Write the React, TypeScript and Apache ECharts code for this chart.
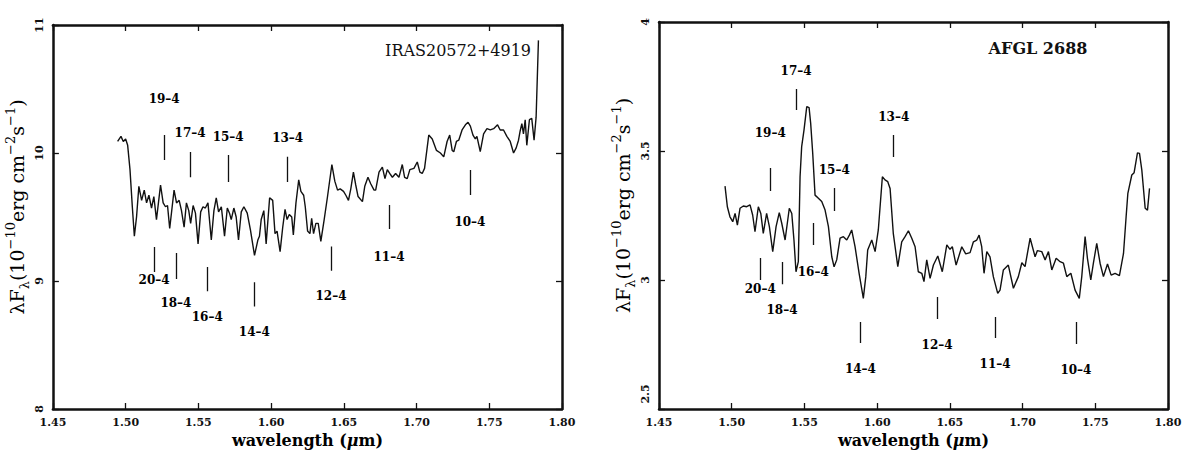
import React, { useEffect, useRef } from "react";
import * as echarts from "echarts";

// ---------- IRAS 20572+4919 spectrum ----------
const irasWave = [
  1.4945, 1.4968, 1.4984, 1.5, 1.5014, 1.503, 1.5046, 1.506, 1.5075, 1.5091, 1.511, 1.5128, 1.5144, 1.516,
  1.5178, 1.5194, 1.5212, 1.524, 1.5258, 1.5274, 1.5288, 1.5303, 1.5333, 1.535, 1.5368, 1.5384, 1.5402,
  1.5418, 1.5434, 1.5447, 1.5464, 1.548, 1.5498, 1.5516, 1.5532, 1.5548, 1.5566, 1.5589, 1.5607, 1.5623,
  1.5639, 1.5658, 1.568, 1.5699, 1.5714, 1.5726, 1.5744, 1.576, 1.5776, 1.5795, 1.5813, 1.5836, 1.5858,
  1.5886, 1.5909, 1.592, 1.5932, 1.595, 1.5966, 1.599, 1.6011, 1.6027, 1.6041, 1.6062, 1.608, 1.6096,
  1.611, 1.6125, 1.6142, 1.6153, 1.6171, 1.619, 1.6205, 1.6224, 1.6235, 1.6251, 1.6267, 1.6279, 1.6292,
  1.6308, 1.6324, 1.6342, 1.6365, 1.6388, 1.6418, 1.6438, 1.6457, 1.6475, 1.6498, 1.6514, 1.6532, 1.6548,
  1.6566, 1.6582, 1.6598, 1.6628, 1.6644, 1.6666, 1.6685, 1.6708, 1.6719, 1.6742, 1.6765, 1.6783, 1.6799,
  1.6822, 1.6834, 1.6856, 1.6879, 1.6902, 1.6918, 1.6936, 1.6954, 1.6982, 1.7005, 1.7023, 1.7039, 1.7055,
  1.7084, 1.7108, 1.7137, 1.7164, 1.7187, 1.721, 1.7228, 1.7245, 1.7256, 1.7274, 1.729, 1.7313, 1.7336,
  1.7354, 1.737, 1.7388, 1.7404, 1.7415, 1.7438, 1.7461, 1.7484, 1.7507, 1.753, 1.7557, 1.7575, 1.7598,
  1.7621, 1.7644, 1.7667, 1.7685, 1.7701, 1.7712, 1.7724, 1.7735, 1.7747, 1.7758, 1.7776, 1.7792, 1.7808,
  1.7822, 1.7838,
];
const irasFlux = [
  10.09, 10.13, 10.09, 10.11, 10.06, 9.87, 9.58, 9.35, 9.5, 9.74, 9.63, 9.71, 9.61, 9.67,
  9.57, 9.66, 9.48, 9.75, 9.61, 9.58, 9.59, 9.41, 9.71, 9.61, 9.63, 9.55, 9.42,
  9.61, 9.55, 9.45, 9.59, 9.53, 9.29, 9.54, 9.58, 9.57, 9.61, 9.32, 9.55, 9.65,
  9.54, 9.58, 9.35, 9.57, 9.53, 9.48, 9.57, 9.5, 9.32, 9.54, 9.58, 9.53, 9.4,
  9.2, 9.32, 9.35, 9.48, 9.55, 9.29, 9.65, 9.63, 9.37, 9.39, 9.23, 9.42, 9.56,
  9.48, 9.52, 9.5, 9.36, 9.61, 9.79, 9.7, 9.67, 9.58, 9.39, 9.37, 9.49, 9.37,
  9.45, 9.45, 9.31, 9.48, 9.66, 9.91, 9.78, 9.71, 9.72, 9.7, 9.67, 9.63, 9.72,
  9.85, 9.75, 9.66, 9.62, 9.74, 9.81, 9.76, 9.71, 9.71, 9.85, 9.89, 9.8, 9.87,
  9.83, 9.81, 9.84, 9.81, 9.91, 9.81, 9.8, 9.87, 9.88, 9.93, 9.85, 9.84, 9.88,
  10.14, 10.11, 10.02, 10.0, 9.97, 10.09, 10.14, 10.02, 10.01, 10.09, 10.1, 10.18, 10.22,
  10.24, 10.21, 10.14, 10.11, 10.13, 10.01, 10.15, 10.19, 10.18, 10.19, 10.22, 10.18, 10.18,
  10.13, 10.09, 10.0, 10.04, 10.1, 10.17, 10.23, 10.15, 10.26, 10.06, 10.26, 10.27, 10.1,
  10.28, 10.88,
];

// ---------- AFGL 2688 spectrum ----------
const afglWave = [
  1.4954, 1.497, 1.4988, 1.5007, 1.5023, 1.5039, 1.5057, 1.508, 1.5103, 1.5126, 1.5144, 1.516, 1.5183,
  1.52, 1.5217, 1.524, 1.5259, 1.5282, 1.5305, 1.5327, 1.5344, 1.5367, 1.5396, 1.5413, 1.5428, 1.5442,
  1.5458, 1.547, 1.5481, 1.5497, 1.5516, 1.5532, 1.5543, 1.5557, 1.5573, 1.5596, 1.5619, 1.5642, 1.5665,
  1.5688, 1.5704, 1.5722, 1.5745, 1.5768, 1.5791, 1.5809, 1.5825, 1.5848, 1.5876, 1.5905, 1.5922, 1.5935,
  1.5963, 1.5986, 1.6008, 1.6036, 1.6054, 1.6073, 1.6089, 1.6111, 1.6142, 1.6169, 1.6192, 1.6215, 1.6238,
  1.6261, 1.6283, 1.6307, 1.6322, 1.6341, 1.6364, 1.6387, 1.6417, 1.6448, 1.6479, 1.6501, 1.6517, 1.6543,
  1.6582, 1.6609, 1.6639, 1.6662, 1.6685, 1.6701, 1.6719, 1.6735, 1.6754, 1.6776, 1.6799, 1.6829, 1.6845,
  1.6868, 1.6902, 1.6937, 1.6971, 1.6995, 1.7017, 1.7052, 1.7086, 1.7102, 1.7132, 1.7155, 1.7178, 1.7201,
  1.7231, 1.7258, 1.7281, 1.7304, 1.7332, 1.7361, 1.739, 1.7407, 1.743, 1.7446, 1.7469, 1.7487, 1.751,
  1.7533, 1.7556, 1.7584, 1.7609, 1.7636, 1.7666, 1.7694, 1.7712, 1.7724, 1.7751, 1.7767, 1.779, 1.7804,
  1.782, 1.7843, 1.7859, 1.7873,
];
const afglFlux = [
  3.364, 3.284, 3.245, 3.226, 3.258, 3.213, 3.278, 3.287, 3.284, 3.291, 3.252, 3.187, 3.284,
  3.258, 3.181, 3.258, 3.207, 3.11, 3.207, 3.261, 3.22, 3.155, 3.278, 3.258, 3.155, 3.032,
  3.071, 3.4, 3.517, 3.581, 3.672, 3.668, 3.607, 3.491, 3.329, 3.317, 3.304, 3.271, 3.207,
  3.09, 3.051, 3.078, 3.162, 3.168, 3.155, 3.174, 3.194, 3.129, 3.026, 2.929, 3.013, 3.116,
  3.155, 3.11, 3.194, 3.4, 3.388, 3.381, 3.355, 3.181, 3.052, 3.148, 3.168, 3.191, 3.162,
  3.129, 3.032, 3.026, 2.994, 3.078, 3.006, 3.058, 3.093, 3.032, 3.136, 3.119, 3.129, 3.058,
  3.129, 3.101, 3.106, 3.148, 3.155, 3.174, 3.129, 3.026, 3.11, 3.09, 3.013, 2.948, 2.961,
  3.039, 3.058, 2.968, 3.013, 3.067, 3.052, 3.162, 3.09, 3.114, 3.11, 3.078, 3.11, 3.039,
  3.084, 3.071, 3.065, 3.013, 3.026, 2.961, 2.929, 3.013, 3.168, 3.084, 3.0, 3.065, 3.142,
  3.065, 3.013, 3.062, 3.019, 3.026, 3.017, 3.103, 3.245, 3.336, 3.407, 3.416, 3.493, 3.491,
  3.426, 3.278, 3.271, 3.355,
];

// ---------- Brackett line markers ----------
const lineNames = ["20–4", "19–4", "18–4", "17–4", "16–4", "15–4", "14–4", "13–4", "12–4", "11–4", "10–4"];
const lineWave = [1.5196, 1.5265, 1.5346, 1.5443, 1.5561, 1.5705, 1.5885, 1.6114, 1.6412, 1.6811, 1.7367];

const irasTickLow = [9.07, 9.945, 9.016, 9.81, 8.92, 9.773, 8.8, 9.773, 9.08, 9.406, 9.672];
const irasTickHigh = [9.266, 10.14, 9.219, 10.008, 9.11, 9.984, 8.99, 9.97, 9.27, 9.594, 9.867];
const irasLabelY = [9.008, 10.42, 8.83, 10.156, 8.72, 10.125, 8.6, 10.117, 8.88, 9.19, 9.46];

const afglTickLow = [3.0, 3.345, 2.984, 3.659, 3.136, 3.267, 2.756, 3.477, 2.849, 2.775, 2.752];
const afglTickHigh = [3.085, 3.434, 3.07, 3.74, 3.221, 3.357, 2.837, 3.562, 2.934, 2.857, 2.837];
const afglLabelY = [2.965, 3.57, 2.884, 3.81, 3.031, 3.426, 2.655, 3.632, 2.748, 2.674, 2.651];

// ---------- axes ----------
const xMin = 1.45;
const xMax = 1.8;
const xStep = 0.05;
const irasYMin = 8;
const irasYMax = 11;
const irasYStep = 1;
const afglYMin = 2.5;
const afglYMax = 4;
const afglYStep = 0.5;

const SERIF = "DejaVu Serif";
const INK = "#111";

const yTitle = "{a|λF}{s|λ}{a|(10}{p|−10}{a|erg cm}{p|−2}{a|s}{p|−1}{a|)}";
const yTitleRich = {
  a: { fontFamily: SERIF, fontSize: 19, color: "#000", lineHeight: 32, verticalAlign: "middle" },
  s: { fontFamily: SERIF, fontSize: 13, color: "#000", lineHeight: 32, verticalAlign: "bottom", padding: [0, 0, 2, 0] },
  p: { fontFamily: SERIF, fontSize: 13, color: "#000", lineHeight: 32, verticalAlign: "top", padding: [3, 0, 0, 0] },
};

function buildPanel(
  gi: number,
  wave: number[],
  flux: number[],
  low: number[],
  high: number[],
  labY: number[],
  yMin: number,
  yMax: number,
  yStep: number,
  liftMin: boolean
) {
  const axisLine = { show: true, lineStyle: { color: INK, width: 2.5 } };
  const tick = { show: true, inside: true, length: 6, lineStyle: { color: INK, width: 1.3 } };
  const xAxes = [
    {
      gridIndex: gi,
      type: "value",
      min: xMin,
      max: xMax,
      interval: xStep,
      position: "bottom",
      axisLine,
      axisTick: tick,
      splitLine: { show: false },
      axisLabel: {
        formatter: (v: number) => v.toFixed(2),
        fontFamily: SERIF,
        fontWeight: "bold",
        fontSize: 11,
        color: INK,
        margin: 8,
      },
      name: "{a|wavelength (}{i|μ}{a|m)}",
      nameLocation: "middle",
      nameGap: 23,
      nameTextStyle: {
        color: "#000",
        rich: {
          a: { fontFamily: SERIF, fontWeight: "bold", fontSize: 16, color: "#000" },
          i: { fontFamily: SERIF, fontStyle: "italic", fontWeight: "bold", fontSize: 16, color: "#000" },
        },
      },
    },
    {
      gridIndex: gi,
      type: "value",
      min: xMin,
      max: xMax,
      interval: xStep,
      position: "top",
      axisLine,
      axisTick: tick,
      axisLabel: { show: false },
      splitLine: { show: false },
    },
  ];
  const yAxes = [
    {
      gridIndex: gi,
      type: "value",
      min: yMin,
      max: yMax,
      interval: yStep,
      position: "left",
      axisLine,
      axisTick: tick,
      splitLine: { show: false },
      axisLabel: {
        rotate: 90,
        fontFamily: SERIF,
        fontWeight: "bold",
        fontSize: 11,
        color: INK,
        margin: 8,
        formatter: (v: number) => (liftMin && v === yMin ? `{m|${v}}` : `${v}`),
        rich: {
          m: { fontFamily: SERIF, fontWeight: "bold", fontSize: 11, color: INK, padding: [0, 0, 0, 30] },
        },
      },
      name: yTitle,
      nameLocation: "middle",
      nameRotate: 90,
      nameGap: 19,
      nameTextStyle: { color: "#000", rich: yTitleRich, padding: [0, 0, 0, 20] },
    },
    {
      gridIndex: gi,
      type: "value",
      min: yMin,
      max: yMax,
      interval: yStep,
      position: "right",
      axisLine,
      axisTick: tick,
      axisLabel: { show: false },
      splitLine: { show: false },
    },
  ];
  const xi = gi * 2;
  const yi = gi * 2;
  const series = [
    {
      type: "line",
      xAxisIndex: xi,
      yAxisIndex: yi,
      data: wave.map((w, i) => [w, flux[i]]),
      showSymbol: false,
      symbol: "none",
      lineStyle: { color: INK, width: 1.4 },
      silent: true,
      z: 3,
    },
    {
      type: "lines",
      coordinateSystem: "cartesian2d",
      xAxisIndex: xi,
      yAxisIndex: yi,
      data: lineWave.map((w, i) => ({ coords: [[w, low[i]], [w, high[i]]] })),
      lineStyle: { color: INK, width: 1.3, opacity: 1 },
      silent: true,
      z: 3,
    },
    {
      type: "scatter",
      xAxisIndex: xi,
      yAxisIndex: yi,
      symbolSize: 0,
      itemStyle: { opacity: 1, color: INK },
      data: lineWave.map((w, i) => ({ name: lineNames[i], value: [w, labY[i]] })),
      label: {
        show: true,
        position: "inside",
        formatter: "{b}",
        fontFamily: SERIF,
        fontWeight: "bold",
        fontSize: 12,
        color: "#000",
        opacity: 1,
      },
      silent: true,
      z: 4,
    },
  ];
  return { xAxes, yAxes, series };
}

export default function App() {
  const ref = useRef<HTMLDivElement>(null);
  useEffect(() => {
    if (!ref.current) return;
    const chart = echarts.init(ref.current, null, { renderer: "svg" });
    const p1 = buildPanel(0, irasWave, irasFlux, irasTickLow, irasTickHigh, irasLabelY, irasYMin, irasYMax, irasYStep, false);
    const p2 = buildPanel(1, afglWave, afglFlux, afglTickLow, afglTickHigh, afglLabelY, afglYMin, afglYMax, afglYStep, true);
    chart.setOption({
      animation: false,
      backgroundColor: "#fff",
      grid: [
        { left: 51, top: 25, width: 511, height: 384 },
        { left: 659, top: 22, width: 509, height: 387 },
      ],
      xAxis: [...p1.xAxes, ...p2.xAxes],
      yAxis: [...p1.yAxes, ...p2.yAxes],
      series: [...p1.series, ...p2.series],
      graphic: [
        {
          type: "text",
          x: 531,
          y: 50,
          style: {
            text: "IRAS20572+4919",
            font: `16px "${SERIF}"`,
            fill: INK,
            textAlign: "right",
            textVerticalAlign: "middle",
          },
        },
        {
          type: "text",
          x: 1038,
          y: 48,
          style: {
            text: "AFGL 2688",
            font: `bold 16px "${SERIF}"`,
            fill: INK,
            textAlign: "center",
            textVerticalAlign: "middle",
          },
        },
      ],
    });
    return () => chart.dispose();
  }, []);
  return (
    <div
      ref={ref}
      style={{ position: "fixed", left: 0, top: 0, width: 1200, height: 456, background: "#fff" }}
    />
  );
}
